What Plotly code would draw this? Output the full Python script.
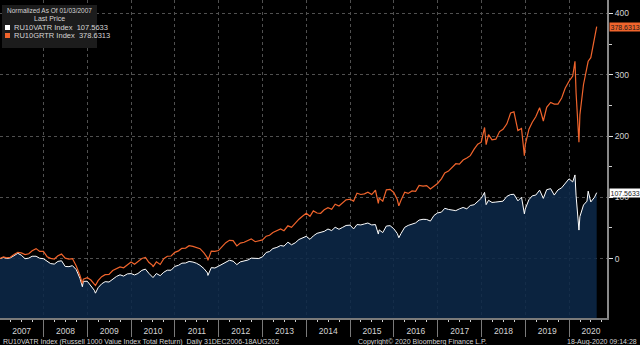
import plotly.graph_objects as go

dates = [
    "2007-01-03", "2007-01-31", "2007-02-28", "2007-03-30", "2007-04-30", "2007-05-31", "2007-06-29",
    "2007-07-31", "2007-08-31", "2007-09-28", "2007-10-31", "2007-11-30", "2007-12-31",
    "2008-01-31", "2008-02-29", "2008-03-31", "2008-04-30", "2008-05-30", "2008-06-30",
    "2008-07-31", "2008-08-29", "2008-09-30", "2008-10-31", "2008-11-20", "2008-11-28", "2008-12-31",
    "2009-01-30", "2009-02-27", "2009-03-09", "2009-03-31", "2009-04-30", "2009-05-29", "2009-06-30",
    "2009-07-31", "2009-08-31", "2009-09-30", "2009-10-30", "2009-11-30", "2009-12-31",
    "2010-01-29", "2010-02-26", "2010-03-31", "2010-04-30", "2010-05-28", "2010-06-30", "2010-07-02",
    "2010-07-30", "2010-08-31", "2010-09-30", "2010-10-29", "2010-11-30", "2010-12-31",
    "2011-01-31", "2011-02-28", "2011-03-31", "2011-04-29", "2011-05-31", "2011-06-30",
    "2011-07-29", "2011-08-31", "2011-09-30", "2011-10-03", "2011-10-31", "2011-11-30", "2011-12-30",
    "2012-01-31", "2012-02-29", "2012-03-30", "2012-04-30", "2012-05-31", "2012-06-29",
    "2012-07-31", "2012-08-31", "2012-09-28", "2012-10-31", "2012-11-30", "2012-12-31",
    "2013-01-31", "2013-02-28", "2013-03-28", "2013-04-30", "2013-05-31", "2013-06-28",
    "2013-07-31", "2013-08-30", "2013-09-30", "2013-10-31", "2013-11-29", "2013-12-31",
    "2014-01-31", "2014-02-28", "2014-03-31", "2014-04-30", "2014-05-30", "2014-06-30",
    "2014-07-31", "2014-08-29", "2014-09-30", "2014-10-31", "2014-11-28", "2014-12-31",
    "2015-01-30", "2015-02-27", "2015-03-31", "2015-04-30", "2015-05-29", "2015-06-30",
    "2015-07-31", "2015-08-24", "2015-08-31", "2015-09-30", "2015-10-30", "2015-11-30", "2015-12-31",
    "2016-01-29", "2016-02-11", "2016-02-29", "2016-03-31", "2016-04-29", "2016-05-31", "2016-06-30",
    "2016-07-29", "2016-08-31", "2016-09-30", "2016-10-31", "2016-11-30", "2016-12-30",
    "2017-01-31", "2017-02-28", "2017-03-31", "2017-04-28", "2017-05-31", "2017-06-30",
    "2017-07-31", "2017-08-31", "2017-09-29", "2017-10-31", "2017-11-30", "2017-12-29",
    "2018-01-26", "2018-02-08", "2018-02-28", "2018-03-29", "2018-04-30", "2018-05-31", "2018-06-29",
    "2018-07-31", "2018-08-31", "2018-09-28", "2018-10-31", "2018-11-30", "2018-12-24", "2018-12-31",
    "2019-01-31", "2019-02-28", "2019-03-29", "2019-04-30", "2019-05-31", "2019-06-28",
    "2019-07-31", "2019-08-30", "2019-09-30", "2019-10-31", "2019-11-29", "2019-12-31",
    "2020-01-31", "2020-02-19", "2020-02-28", "2020-03-23", "2020-03-31", "2020-04-30",
    "2020-05-29", "2020-06-08", "2020-06-30", "2020-07-31", "2020-08-18",
]

growth_tr = [
    0.0, 2.6, 1.1, 2.2, 6.7, 10.3, 9.2,
    6.4, 7.9, 12.6, 16.2, 11.7, 11.8,
    3.1, 0.4, -0.7, 4.6, 7.3, 0.6,
    -0.9, 0.0, -12.2, -27.6, -41.0, -33.6, -31.2,
    -35.1, -40.9, -44.0, -36.0, -29.6, -26.2, -25.9,
    -19.5, -17.0, -13.5, -15.0, -9.5, -5.6,
    -9.4, -5.7, 0.1, 1.7, -6.0, -11.4, -13.5,
    -5.4, -9.7, -0.2, 3.8, 4.2, 10.2,
    12.6, 16.7, 17.1, 21.0, 20.0, 18.2,
    16.1, 9.4, 0.8, -3.0, 12.1, 11.8, 13.1,
    19.9, 25.9, 29.7, 29.4, 20.6, 25.2,
    26.6, 29.9, 32.2, 27.5, 28.9, 30.4,
    36.5, 38.0, 42.6, 45.3, 48.2, 45.5,
    53.4, 50.9, 57.9, 64.3, 69.1, 74.0,
    69.0, 77.8, 74.4, 73.9, 79.6, 83.0,
    80.3, 88.6, 85.8, 90.6, 95.9, 96.8,
    93.8, 106.8, 104.6, 105.6, 108.3, 104.5,
    111.5, 90.0, 98.6, 93.6, 112.2, 113.0, 107.9,
    96.3, 86.0, 95.1, 108.2, 106.3, 110.4, 109.6,
    119.2, 118.1, 119.0, 113.7, 118.4, 122.6,
    130.2, 139.9, 142.8, 148.3, 154.8, 154.0,
    160.9, 164.3, 168.0, 178.5, 186.8, 189.9,
    214.0, 186.0, 202.4, 193.9, 194.8, 207.2, 210.9,
    219.9, 237.5, 239.5, 209.0, 212.4, 168.0, 185.5,
    211.2, 222.4, 231.4, 246.3, 224.5, 246.9,
    254.9, 252.1, 252.1, 262.0, 277.9, 289.4,
    298.0, 322.0, 270.9, 190.0, 234.6, 284.1,
    309.8, 322.0, 327.9, 360.8, 378.6313,
]

value_tr = [
    0.0, 1.8, 0.1, 1.1, 4.7, 8.6, 5.6,
    -0.2, 0.7, 3.8, 3.8, 0.5, -0.2,
    -4.2, -8.2, -9.0, -4.6, -3.6, -12.9,
    -13.2, -11.6, -18.1, -32.3, -46.0, -37.2, -37.0,
    -44.2, -51.7, -56.5, -47.6, -41.2, -37.7, -38.3,
    -33.1, -29.2, -26.5, -28.6, -25.0, -24.5,
    -26.7, -24.4, -19.2, -17.2, -24.0, -29.2, -31.0,
    -24.4, -27.9, -22.3, -19.0, -19.0, -12.8,
    -10.9, -7.5, -7.2, -4.7, -5.7, -7.7,
    -11.0, -16.4, -23.6, -27.5, -14.8, -15.4, -12.5,
    -9.0, -5.6, -2.8, -4.2, -9.9, -5.4,
    -4.5, -2.4, 0.7, 0.2, 0.1, 2.8,
    10.0, 11.5, 16.4, 18.2, 21.3, 20.3,
    26.7, 22.5, 25.7, 31.1, 33.5, 36.3,
    31.4, 37.0, 41.2, 42.4, 44.4, 48.2,
    45.7, 51.1, 47.8, 51.0, 54.0, 54.6,
    48.4, 55.5, 54.9, 56.5, 58.0, 54.9,
    55.5, 40.0, 46.8, 42.4, 53.1, 53.7, 48.7,
    41.0, 34.0, 40.8, 51.0, 54.1, 56.7, 58.2,
    62.8, 64.1, 63.8, 61.2, 70.3, 74.5,
    75.7, 82.0, 80.2, 79.8, 78.2, 81.1,
    83.4, 81.2, 86.6, 87.9, 93.8, 98.3,
    108.0, 88.0, 95.1, 91.6, 92.2, 93.3, 93.7,
    101.5, 104.5, 104.9, 94.2, 100.1, 73.0, 80.9,
    96.1, 102.4, 103.6, 111.7, 98.2, 112.4,
    114.1, 103.6, 112.0, 115.5, 122.5, 130.2,
    125.1, 136.5, 103.3, 46.5, 68.5, 87.4,
    93.7, 110.0, 92.4, 100.1, 107.5633,
]

y_ticks = [0, 100, 200, 300, 400]
y_range = [-97, 422]
x_range = ["2007-01-03", "2020-11-12"]

BG = "#000000"
NAVY_FILL = "rgba(12,40,72,0.88)"
ORANGE = "#f0642c"
WHITE = "#ffffff"
GRID = "#505050"
TXT = "#d4d4d4"
FONT = "Liberation Sans Narrow, Liberation Sans, Arial, sans-serif"

W, H = 640, 345
ML, MR, MT, MB = 0, 33, 0, 27
PW, PH = W - ML - MR, H - MT - MB


def px(x):
    return (x - ML) / PW


def py(y):
    return (MT + PH - y) / PH


fig = go.Figure()

# baseline at bottom of axis for the navy area
fig.add_trace(go.Scatter(x=dates, y=[y_range[0]] * len(dates), mode="lines",
                         line=dict(width=0, color=BG), hoverinfo="skip", showlegend=False))
fig.add_trace(go.Scatter(x=dates, y=value_tr, mode="lines", fill="tonexty",
                         fillcolor=NAVY_FILL, line=dict(color=WHITE, width=1),
                         name="RU10VATR Index", showlegend=False))
fig.add_trace(go.Scatter(x=dates, y=growth_tr, mode="lines",
                         line=dict(color=ORANGE, width=1.2),
                         name="RU10GRTR Index", showlegend=False))

fig.update_layout(
    width=W, height=H,
    margin=dict(l=ML, r=MR, t=MT, b=MB, pad=0),
    paper_bgcolor=BG, plot_bgcolor=BG,
    font=dict(family=FONT, color=TXT, size=8),
    showlegend=False,
)

fig.update_xaxes(
    type="date", range=x_range,
    tick0="2007-01-01", dtick="M12", tickformat="%Y", ticklabelmode="period",
    showgrid=True, gridcolor=GRID, griddash="dot", gridwidth=1,
    ticks="outside", ticklen=17, tickcolor="#7a7a7a", tickwidth=1,
    ticklabelstandoff=-13,
    tickfont=dict(size=8.5, color=TXT, family=FONT),
    showline=True, linecolor="#7a7a7a", linewidth=2,
    minor=dict(dtick="M3", tick0="2007-01-01", ticks="outside", ticklen=2,
               tickcolor="#cfcfcf", showgrid=False),
    zeroline=False,
)

fig.update_yaxes(
    side="right", range=y_range, tickvals=y_ticks,
    showgrid=True, gridcolor=GRID, griddash="dot", gridwidth=1,
    ticks="outside", ticklen=4, tickcolor="#e0e0e0", tickwidth=1,
    tickfont=dict(size=8.5, color=TXT, family=FONT),
    showline=True, linecolor="#8a8a8a", linewidth=2,
    minor=dict(tickvals=[50, 150, 250, 350], ticks="outside", ticklen=3,
               tickcolor="#cfcfcf", showgrid=False),
    zeroline=False,
)

shapes = []
annotations = []

# legend box (top-left)
shapes.append(dict(type="rect", xref="paper", yref="paper",
                   x0=px(2), x1=px(97), y0=py(48), y1=py(5),
                   fillcolor="#1c1c1c", line=dict(width=0), layer="above"))
annotations.append(dict(text="Normalized As Of 01/03/2007", xref="paper", yref="paper",
                        x=px(49.5), y=py(11), xanchor="center", yanchor="middle",
                        showarrow=False, font=dict(size=6.5, color=TXT, family=FONT)))
annotations.append(dict(text="Last Price", xref="paper", yref="paper",
                        x=px(49.5), y=py(19), xanchor="center", yanchor="middle",
                        showarrow=False, font=dict(size=7, color=TXT, family=FONT)))
legend_rows = [("RU10VATR Index", value_tr[-1], WHITE, 27.5),
               ("RU10GRTR Index", growth_tr[-1], ORANGE, 35.5)]
for name, last, col, yy in legend_rows:
    shapes.append(dict(type="rect", xref="paper", yref="paper",
                       x0=px(5), x1=px(10), y0=py(yy + 2.5), y1=py(yy - 2.5),
                       fillcolor=col, line=dict(width=0), layer="above"))
    annotations.append(dict(text=f"{name}\u00a0\u00a0{last:.4f}", xref="paper", yref="paper",
                            x=px(11.5), y=py(yy), xanchor="left", yanchor="middle",
                            showarrow=False, font=dict(size=7.5, color=TXT, family=FONT)))

# last-price tags on the right axis
for last, col in [(growth_tr[-1], ORANGE), (value_tr[-1], WHITE)]:
    annotations.append(dict(text=f"{last:.4f}", xref="paper", yref="y",
                            x=px(609), y=last, xanchor="left", yanchor="middle",
                            showarrow=False, bgcolor=col, borderpad=0.5,
                            font=dict(size=7, color="#1a1a1a", family=FONT)))

# footer
FOOT_Y = 341.5
annotations.append(dict(text="RU10VATR Index (Russell 1000 Value Index Total Return)  Daily 31DEC2006-18AUG202",
                        xref="paper", yref="paper", x=px(1), y=py(FOOT_Y),
                        xanchor="left", yanchor="middle", showarrow=False,
                        font=dict(size=7, color=TXT, family=FONT)))
annotations.append(dict(text="Copyright\u00a9 2020 Bloomberg Finance L.P.",
                        xref="paper", yref="paper", x=px(356), y=py(FOOT_Y),
                        xanchor="left", yanchor="middle", showarrow=False,
                        font=dict(size=7, color=TXT, family=FONT)))
annotations.append(dict(text="18-Aug-2020 09:14:28",
                        xref="paper", yref="paper", x=px(639), y=py(FOOT_Y),
                        xanchor="right", yanchor="middle", showarrow=False,
                        font=dict(size=7, color=TXT, family=FONT)))

fig.update_layout(shapes=shapes, annotations=annotations)

fig.write_html("out.html")
